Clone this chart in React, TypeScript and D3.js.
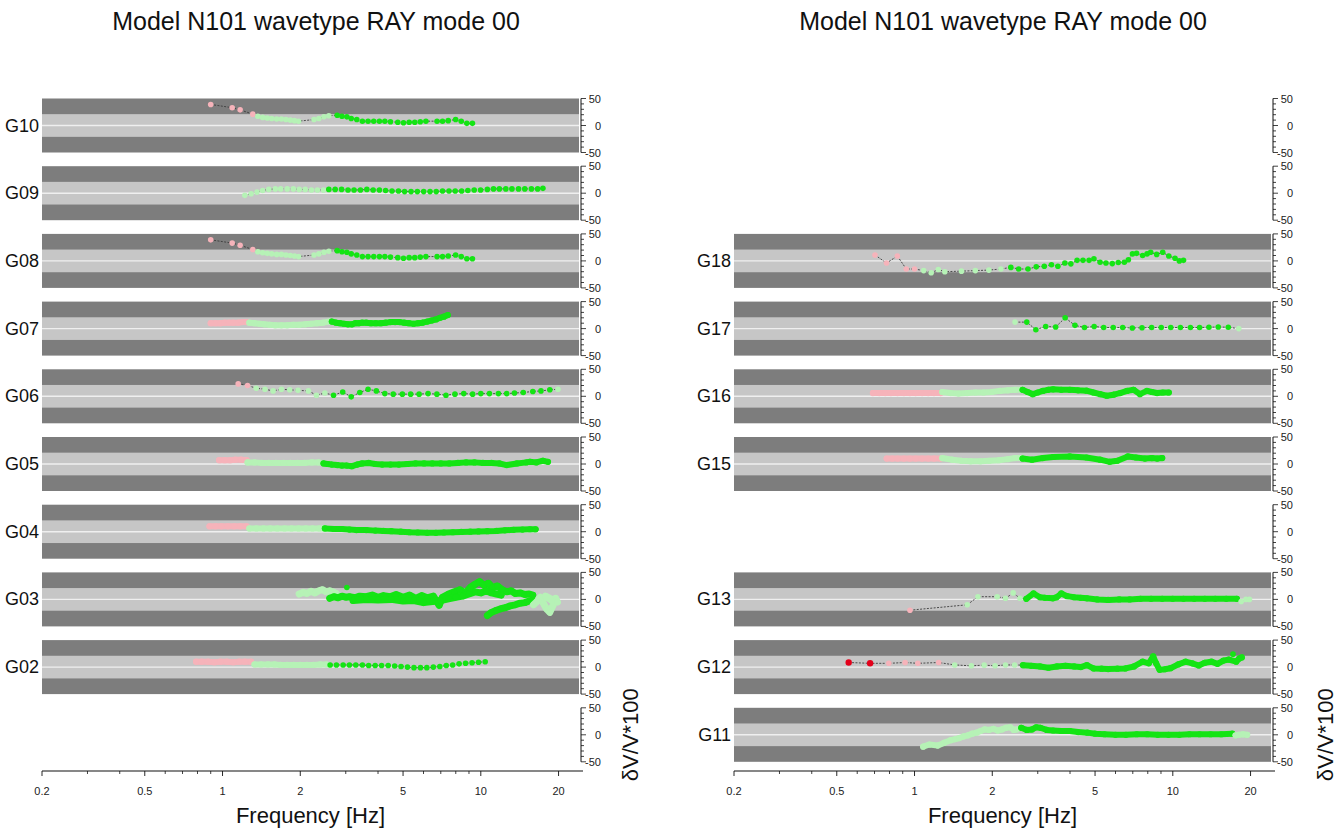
import React from 'react';
import * as d3 from 'd3';

// Dispersion-curve residuals per geophone: [frequency Hz, dV/V*100]
const G10_pink = [[0.90, 39], [1.09, 33], [1.17, 29], [1.31, 21]];
const G10_light = [[1.37, 17], [1.43, 15], [1.49, 14], [1.55, 13], [1.62, 12], [1.69, 12], [1.76, 11], [1.83, 10], [1.90, 9], [1.97, 8], [2.26, 11], [2.36, 13], [2.47, 16], [2.58, 18]];
const G10_green = [[2.78, 19], [2.90, 17], [3.03, 16], [3.15, 13], [3.31, 11], [3.48, 8], [3.66, 8], [3.85, 8], [4.05, 8], [4.25, 8], [4.47, 7], [4.77, 6], [5.02, 5], [5.28, 6], [5.55, 6], [5.83, 7], [6.13, 8], [6.77, 8], [7.11, 8], [7.48, 9], [7.99, 11], [8.40, 8], [8.83, 4], [9.28, 4]];

const G09_light = [[1.22, -4], [1.29, -1], [1.36, 2], [1.43, 5], [1.51, 7], [1.60, 8], [1.68, 8], [1.78, 8], [1.88, 8], [1.98, 7], [2.09, 7], [2.21, 6], [2.33, 6], [2.46, 6]];
const G09_green = [[2.58, 7], [2.73, 7], [2.89, 7], [3.06, 6], [3.23, 6], [3.42, 6], [3.62, 7], [3.83, 6], [4.05, 6], [4.28, 5], [4.53, 4], [4.80, 4], [5.07, 3], [5.37, 3], [5.68, 3], [6.01, 3], [6.36, 3], [6.72, 3], [7.11, 4], [7.53, 4], [7.96, 4], [8.43, 4], [8.91, 5], [9.43, 6], [9.98, 6], [10.6, 7], [11.2, 8], [11.8, 8], [12.5, 8], [13.2, 8], [14.0, 8], [14.8, 8], [15.7, 8], [16.6, 8], [17.4, 9]];

const G08_pink = [[0.90, 39], [1.09, 33], [1.17, 29], [1.31, 21]];
const G08_light = [[1.37, 17], [1.43, 15], [1.49, 14], [1.55, 13], [1.62, 12], [1.69, 12], [1.76, 11], [1.83, 10], [1.90, 9], [1.97, 8], [2.26, 11], [2.36, 13], [2.47, 16], [2.58, 18]];
const G08_green = [[2.78, 19], [2.90, 17], [3.03, 16], [3.15, 13], [3.31, 11], [3.48, 8], [3.66, 8], [3.85, 8], [4.05, 8], [4.25, 8], [4.47, 7], [4.77, 6], [5.02, 5], [5.28, 6], [5.55, 6], [5.83, 7], [6.13, 8], [6.77, 8], [7.11, 8], [7.48, 9], [7.99, 11], [8.40, 8], [8.83, 4], [9.28, 4]];

const G07_pink = [[0.90, 10], [0.94, 10], [0.98, 10], [1.02, 11], [1.06, 11], [1.10, 11], [1.15, 11], [1.19, 12], [1.24, 12]];
const G07_light = [[1.27, 11], [1.33, 10], [1.39, 9], [1.45, 8], [1.52, 7], [1.60, 6], [1.69, 6], [1.78, 6], [1.88, 7], [1.98, 7], [2.09, 8], [2.20, 9], [2.32, 10], [2.45, 11], [2.58, 13]];
const G07_green = [[2.65, 13], [2.75, 11], [2.85, 10], [2.95, 9], [3.06, 8], [3.17, 8], [3.27, 10], [3.37, 10], [3.47, 11], [3.60, 11], [3.75, 10], [3.92, 10], [4.10, 10], [4.28, 11], [4.47, 12], [4.66, 12], [4.85, 12], [5.05, 11], [5.27, 10], [5.49, 9], [5.72, 10], [5.95, 11], [6.20, 13], [6.45, 15], [6.71, 17], [6.95, 20], [7.20, 22], [7.45, 25]];

const G06_pink = [[1.15, 23], [1.25, 20]];
const G06_light = [[1.35, 15], [1.46, 13], [1.57, 10], [1.69, 13], [1.82, 12], [1.96, 11], [2.15, 10], [2.31, 2], [2.49, 6]];
const G06_green = [[2.69, 2], [2.92, 8], [3.15, -1], [3.40, 7], [3.66, 13], [3.94, 10], [4.25, 5], [4.58, 4], [4.97, 4], [5.35, 4], [5.77, 4], [6.25, 5], [6.76, 4], [7.33, 2], [7.94, 4], [8.59, 5], [9.30, 4], [10.0, 5], [10.8, 5], [11.7, 5], [12.6, 5], [13.5, 6], [14.6, 7], [15.9, 9], [17.1, 10], [18.5, 12]];
const G06_end = [[19.9, 13]];

const G05_pink = [[0.97, 7], [1.02, 7], [1.07, 7], [1.12, 8], [1.18, 8], [1.24, 7]];
const G05_light = [[1.25, 3], [1.33, 3], [1.42, 2], [1.51, 2], [1.61, 2], [1.72, 2], [1.83, 2], [1.95, 2], [2.08, 2], [2.22, 3], [2.36, 3]];
const G05_green = [[2.46, 1], [2.55, 0], [2.65, -1], [2.78, -2], [2.90, -3], [3.03, -3], [3.17, -4], [3.32, -1], [3.47, 1], [3.68, 2], [3.90, 0], [4.15, -1], [4.47, -1], [4.82, -1], [5.20, 0], [5.59, 1], [6.03, 1], [6.49, 1], [7.00, 1], [7.55, 1], [8.15, 2], [8.77, 3], [9.45, 3], [10.2, 2], [11.0, 2], [11.8, 1], [12.6, -2], [13.8, 1], [15.0, 3], [15.5, 4], [16.4, 3], [17.4, 6], [18.2, 4]];

const G04_pink = [[0.89, 10], [0.94, 10], [0.99, 10], [1.05, 10], [1.11, 10], [1.17, 10], [1.24, 10]];
const G04_light = [[1.27, 6], [1.35, 6], [1.44, 6], [1.53, 6], [1.63, 6], [1.74, 6], [1.85, 6], [1.97, 6], [2.10, 6], [2.23, 6], [2.37, 6], [2.46, 6]];
const G04_green = [[2.49, 6], [2.70, 5], [2.90, 5], [3.10, 4], [3.30, 3], [3.60, 3], [3.90, 2], [4.20, 1.5], [4.50, 1], [4.90, 0], [5.30, -1], [5.70, -1.5], [6.20, -2], [6.70, -2], [7.20, -1.5], [7.80, -1], [8.40, -0.5], [9.10, 0], [9.80, 0.5], [10.6, 1], [11.5, 1.5], [12.4, 2.5], [13.4, 3.5], [14.5, 4], [15.5, 4.5], [16.3, 4.5]];

const G03_light = [[1.98, 10], [2.05, 13], [2.12, 11], [2.20, 15], [2.28, 12], [2.36, 16], [2.44, 18], [2.52, 14], [2.60, 16], [2.70, 13], [2.75, 11]];
const G03_green = [[2.60, 2], [2.70, 5], [2.80, 3], [2.90, 6], [3.00, 4], [3.10, 5], [3.25, 3], [3.40, 6], [3.60, 5], [3.80, 8], [4.00, 4], [4.20, 7], [4.45, 5], [4.70, 9], [5.00, 4], [5.30, 8], [5.60, 2], [5.90, 7], [6.20, 3], [6.55, 6], [6.90, -11], [7.10, 4], [7.50, 10], [7.90, 14], [8.30, 18], [8.70, 12], [9.10, 22], [9.50, 28], [9.90, 33], [10.3, 26], [10.7, 30], [11.1, 22], [11.6, 25], [12.1, 18], [12.6, 14], [13.1, 16], [13.6, 11], [14.2, 12], [14.8, 9], [15.4, 10], [15.9, 8]];
const G03_spike = [[3.03, 22]];
const G03_green_low = [[3.20, -2], [3.60, 0], [4.00, -1], [4.50, 0], [5.00, -3], [5.50, -2], [6.00, -6], [6.50, -4], [7.00, -2], [7.50, 1], [8.00, 4], [8.50, 6], [9.00, 10], [9.50, 14], [10.0, 12], [10.5, 16], [11.0, 12], [11.5, 10], [12.0, 8]];
const G03_branch = [[10.6, -30], [11.0, -24], [11.5, -20], [12.0, -17], [12.5, -15], [13.0, -12], [13.6, -10], [14.2, -7], [14.8, -6], [15.4, -3], [15.9, -2]];
const G03_end = [[16.0, -10], [16.5, -4], [17.0, 4], [17.5, -8], [18.0, -18], [18.5, -24], [19.0, -12], [19.5, 2], [19.8, -5], [17.8, 6], [18.8, -2]];

const G02_pink = [[0.79, 10], [0.83, 10], [0.88, 10], [0.93, 9], [0.98, 10], [1.04, 10], [1.10, 9], [1.16, 10], [1.22, 10], [1.29, 10]];
const G02_light = [[1.33, 5], [1.41, 5], [1.50, 5], [1.59, 5], [1.68, 4], [1.78, 4], [1.89, 4], [2.00, 4], [2.12, 4], [2.25, 4], [2.39, 5], [2.53, 5]];
const G02_green = [[2.61, 4], [2.76, 4], [2.93, 4], [3.10, 4], [3.28, 4], [3.48, 4], [3.68, 3], [3.90, 3], [4.13, 3], [4.38, 3], [4.64, 2], [4.91, 1], [5.20, 0], [5.51, -1], [5.84, -1], [6.18, -1], [6.55, 0], [6.94, 1], [7.35, 3], [7.78, 4], [8.24, 6], [8.73, 7], [9.25, 8], [9.80, 9], [10.4, 10]];

const G18_pink = [[0.703, 11], [0.779, -4], [0.858, 9], [0.929, -15], [1.00, -15]];
const G18_light = [[1.085, -18], [1.16, -22], [1.236, -16], [1.31, -20], [1.52, -19], [1.72, -18], [1.94, -17], [2.16, -15]];
const G18_green = [[2.36, -12], [2.53, -15], [2.75, -15], [2.96, -11], [3.18, -10], [3.39, -7], [3.59, -10], [3.82, -4], [4.03, -5.5], [4.26, 1], [4.49, 1], [4.74, 1], [4.95, 4], [5.23, -2.5], [5.51, -4], [5.83, -5], [6.15, -3], [6.49, -2.5], [6.73, 2], [6.98, 13], [7.24, 14], [7.64, 10], [7.95, 13], [8.21, 16], [8.66, 12], [9.14, 16], [9.65, 9], [10.2, 5], [10.6, 0], [11.0, 1]];

const G17_light = [[2.45, 12]];
const G17_green = [[2.72, 12], [2.95, -2], [3.22, 4], [3.52, 3], [3.83, 20], [4.18, 6], [4.55, 2], [4.96, 4], [5.40, 2], [5.88, 2], [6.40, 2], [6.97, 1], [7.60, 1.5], [8.28, 2], [9.02, 2], [9.82, 2], [10.7, 2], [11.7, 2], [12.7, 2], [13.8, 2.5], [15.0, 3], [16.4, 2.5]];
const G17_end = [[18.0, 0]];

const G16_pink = [[0.69, 6], [0.73, 6], [0.77, 6], [0.81, 6], [0.86, 6], [0.91, 6], [0.96, 6], [1.01, 6], [1.07, 6], [1.13, 6], [1.19, 6], [1.26, 6]];
const G16_light = [[1.28, 8], [1.38, 6], [1.48, 5], [1.60, 6], [1.72, 7], [1.85, 7], [1.99, 8], [2.14, 10], [2.30, 11], [2.45, 12], [2.58, 12]];
const G16_green = [[2.62, 12], [2.74, 8], [2.87, 4], [3.00, 7], [3.14, 10], [3.29, 12], [3.44, 13], [3.70, 12], [3.99, 12], [4.30, 11], [4.63, 10.5], [4.93, 7], [5.23, 4], [5.55, 1], [5.90, 3], [6.25, 6], [6.65, 10], [7.05, 12], [7.46, 4], [7.94, 10], [8.30, 8], [8.69, 6], [9.15, 7], [9.65, 7]];

const G15_pink = [[0.78, 10], [0.82, 10], [0.86, 10], [0.91, 10], [0.96, 10], [1.01, 10], [1.07, 10], [1.13, 10], [1.19, 10], [1.26, 10]];
const G15_light = [[1.28, 11], [1.40, 8], [1.52, 6], [1.65, 5], [1.80, 5], [1.95, 6], [2.12, 7], [2.30, 9], [2.45, 11], [2.58, 11]];
const G15_green = [[2.62, 10], [2.85, 8], [3.14, 11], [3.44, 13], [3.99, 14], [4.63, 12], [5.23, 8], [5.70, 4], [6.10, 6], [6.70, 14], [7.20, 12], [7.80, 10], [8.30, 11], [8.70, 10], [9.10, 11]];

const G13_pink = [[0.96, -20]];
const G13_light = [[1.60, -10], [1.76, 5], [2.09, 5], [2.25, 2], [2.41, 12], [2.56, 2]];
const G13_green = [[2.71, 1], [2.89, 11], [3.06, 4], [3.20, 3], [3.43, 2], [3.55, 4], [3.70, 11], [3.90, 6], [4.15, 4], [4.40, 3], [4.65, 2], [5.10, 0], [5.62, -1], [6.20, 0], [6.81, 0], [7.50, 1], [8.24, 1], [9.10, 1], [9.99, 1], [11.0, 1], [12.1, 1], [13.3, 1], [14.6, 1], [16.1, 1], [17.7, 1]];
const G13_end = [[18.4, -4], [19.2, 0], [19.8, 0]];

const G12_red = [[0.556, 8.5], [0.673, 7]];
const G12_pink = [[0.795, 7], [0.92, 8.5], [1.03, 7], [1.24, 8.5]];
const G12_light = [[1.43, 4], [1.66, 2.4], [1.86, 3.6], [2.05, 2.4], [2.25, 4], [2.44, 4]];
const G12_green = [[2.63, 3.6], [2.83, 2.4], [3.06, 1.2], [3.30, -1.2], [3.56, 1.2], [3.84, 2.4], [4.15, 1.2], [4.40, 0], [4.65, 3.6], [4.93, -2.4], [5.30, -3], [5.62, -3.6], [6.10, -3], [6.56, -2.4], [7.08, 1.2], [7.64, 10], [8.08, 7], [8.39, 20], [8.62, 7], [8.89, -5], [9.30, -4], [9.80, -2], [10.5, 5], [11.2, 10], [11.9, 7], [12.6, 3], [13.3, 8], [14.1, 10], [14.9, 6], [15.7, 12], [16.5, 14], [17.6, 10], [18.1, 16], [18.5, 18]];
const G12_spike = [[17.1, 24]];

const G11_light = [[1.08, -22], [1.14, -18], [1.23, -20], [1.30, -15], [1.38, -10], [1.44, -8], [1.49, -6], [1.55, -3], [1.61, -1], [1.67, 2], [1.74, 4], [1.80, 7], [1.87, 10], [1.94, 9], [2.02, 11], [2.10, 8], [2.18, 10], [2.26, 13], [2.35, 14], [2.42, 9], [2.49, 10]];
const G11_green = [[2.59, 13], [2.72, 9], [2.85, 10], [2.96, 14], [3.07, 13], [3.25, 9], [3.44, 8], [3.70, 7], [3.99, 7], [4.30, 5], [4.67, 4], [5.00, 2], [5.44, 1], [6.00, 0], [6.58, 0], [7.25, 1], [7.96, 1], [8.75, 0], [9.62, 0], [10.6, 0], [11.6, 1], [12.7, 1], [14.0, 1], [15.4, 1], [17.0, 2]];
const G11_end = [[17.5, -1], [18.0, 0], [18.7, 1], [19.4, 0]];

const X_TICKS = [0.2, 0.5, 1, 2, 5, 10, 20];
const X_TICK_LABELS = ['0.2', '0.5', '1', '2', '5', '10', '20'];
const X_MINOR = [0.3, 0.4, 0.6, 0.7, 0.8, 0.9, 3, 4, 6, 7, 8, 9];
const Y_TICKS = [-50, -40, -30, -20, -10, 0, 10, 20, 30, 40, 50];
const Y_LABELS = [50, 0, -50];
const TITLE = 'Model N101 wavetype RAY mode 00';

type Seg = { kind: string; pts: number[][]; link: boolean; band: boolean };
// link: joined by the thin connector; band: drawn as a run of overlapping markers
const seg = (kind: string, pts: number[][], link = true, band = true): Seg => ({ kind, pts, link, band });

const STATIONS = [
  { name: 'G10', side: 0, row: 0, segs: [seg('pink', G10_pink), seg('light', G10_light), seg('green', G10_green)] },
  { name: 'G09', side: 0, row: 1, segs: [seg('light', G09_light), seg('green', G09_green)] },
  { name: 'G08', side: 0, row: 2, segs: [seg('pink', G08_pink), seg('light', G08_light), seg('green', G08_green)] },
  { name: 'G07', side: 0, row: 3, segs: [seg('pink', G07_pink), seg('light', G07_light), seg('green', G07_green)] },
  { name: 'G06', side: 0, row: 4, segs: [seg('pink', G06_pink), seg('light', G06_light), seg('green', G06_green), seg('light', G06_end)] },
  { name: 'G05', side: 0, row: 5, segs: [seg('pink', G05_pink), seg('light', G05_light), seg('green', G05_green)] },
  { name: 'G04', side: 0, row: 6, segs: [seg('pink', G04_pink), seg('light', G04_light), seg('green', G04_green)] },
  { name: 'G03', side: 0, row: 7, segs: [seg('light', G03_light), seg('green', G03_green), seg('green', G03_spike, false, false), seg('green', G03_green_low, false), seg('green', G03_branch, false), seg('light', G03_end, false)] },
  { name: 'G02', side: 0, row: 8, segs: [seg('pink', G02_pink), seg('light', G02_light), seg('green', G02_green)] },
  { name: 'G18', side: 1, row: 2, segs: [seg('pink', G18_pink), seg('light', G18_light), seg('green', G18_green)] },
  { name: 'G17', side: 1, row: 3, segs: [seg('light', G17_light), seg('green', G17_green), seg('light', G17_end)] },
  { name: 'G16', side: 1, row: 4, segs: [seg('pink', G16_pink), seg('light', G16_light), seg('green', G16_green)] },
  { name: 'G15', side: 1, row: 5, segs: [seg('pink', G15_pink), seg('light', G15_light), seg('green', G15_green)] },
  { name: 'G13', side: 1, row: 7, segs: [seg('pink', G13_pink), seg('light', G13_light), seg('green', G13_green), seg('light', G13_end)] },
  { name: 'G12', side: 1, row: 8, segs: [seg('red', G12_red), seg('pink', G12_pink), seg('light', G12_light), seg('green', G12_green), seg('green', G12_spike, false, false)] },
  { name: 'G11', side: 1, row: 9, segs: [seg('light', G11_light), seg('green', G11_green), seg('light', G11_end)] },
];

// Stations (or station:kind) whose samples are so close that they merge into a band
const DENSE = new Set(['G07', 'G05', 'G04', 'G03', 'G16', 'G15', 'G11', 'G13:green', 'G12:green', 'G02:pink', 'G02:light']);

const COLORS: Record<string, string> = {
  pink: '#f6b3ba',
  light: '#b6f2b6',
  green: '#14e414',
  red: '#e3001a',
};

const W = 1343;
const H = 828;
const FONT = "'Liberation Sans', Arial, Helvetica, sans-serif";
const ROW_TOP0 = 98.5;
const ROW_STEP = 67.7;
const PANEL_H = 54;
const N_ROWS = 10;
const X_AXIS_Y = 771;
const SIDES = [
  { x0: 42, x1: 579, titleX: 316, ylabX: 638 },
  { x0: 734, x1: 1271, titleX: 1003, ylabX: 1333 },
];

export default function App() {
  const rowScale = (row: number) => {
    const top = ROW_TOP0 + row * ROW_STEP;
    return d3.scaleLinear().domain([-50, 50]).range([top + PANEL_H, top]);
  };

  return (
    <svg
      width={W}
      height={H}
      style={{ position: 'absolute', left: 0, top: 0, background: '#fff' }}
      fontFamily={FONT}
    >
      {SIDES.map((side, si) => {
        const x = d3.scaleLog().domain([0.2, 24]).range([side.x0, side.x1]);
        const axisX = side.x1 + 2;
        const cx = (side.x0 + side.x1) / 2;
        const stations = STATIONS.filter((s) => s.side === si);
        return (
          <g key={si}>
            <text x={side.titleX} y={30} textAnchor="middle" fontSize={25} fill="#111">
              {TITLE}
            </text>

            {d3.range(N_ROWS).map((row) => {
              const y = rowScale(row);
              const st = stations.find((s) => s.row === row);
              return (
                <g key={row}>
                  {st && (
                    <g>
                      <rect x={side.x0} y={y(50)} width={side.x1 - side.x0} height={y(-50) - y(50)} fill="#7d7d7d" />
                      <rect x={side.x0} y={y(21)} width={side.x1 - side.x0} height={y(-21) - y(21)} fill="#c6c6c6" />
                      <line x1={side.x0} x2={side.x1} y1={y(0)} y2={y(0)} stroke="#efefef" strokeWidth={1.4} />
                      <text x={side.x0 - 3} y={y(0) + 6} textAnchor="end" fontSize={18} fill="#111">
                        {st.name}
                      </text>
                      {(() => {
                        const line = d3
                          .line<number[]>()
                          .x((d) => x(d[0]))
                          .y((d) => y(d[1]));
                        const chain = st.segs.filter((s) => s.link).flatMap((s) => s.pts);
                        return (
                          <g>
                            <path d={line(chain) || ''} fill="none" stroke="#3c3c3c" strokeWidth={0.9} strokeDasharray="2 1.4" />
                            {st.segs.map((s, k) => {
                              const dense = s.band && (DENSE.has(st.name) || DENSE.has(st.name + ':' + s.kind));
                              const c = COLORS[s.kind];
                              return (
                                <g key={k}>
                                  {dense && (
                                    <path
                                      d={line(s.pts) || ''}
                                      fill="none"
                                      stroke={c}
                                      strokeWidth={st.name === 'G03' ? 7 : 6}
                                      strokeLinecap="round"
                                      strokeLinejoin="round"
                                    />
                                  )}
                                  {s.pts.map((p, j) => (
                                    <circle
                                      key={j}
                                      cx={x(p[0])}
                                      cy={y(p[1])}
                                      r={s.kind === 'red' ? 3.2 : dense ? 3.1 : 2.8}
                                      fill={c}
                                    />
                                  ))}
                                </g>
                              );
                            })}
                          </g>
                        );
                      })()}
                    </g>
                  )}
                  {/* value axis */}
                  <line x1={axisX} x2={axisX} y1={y(50)} y2={y(-50)} stroke="#111" strokeWidth={1} />
                  {Y_TICKS.map((v) => (
                    <line
                      key={v}
                      x1={axisX}
                      x2={axisX + (v % 50 === 0 ? 5 : 3)}
                      y1={y(v)}
                      y2={y(v)}
                      stroke="#111"
                      strokeWidth={0.8}
                    />
                  ))}
                  {Y_LABELS.map((v) => (
                    <text
                      key={v}
                      x={axisX + 20}
                      y={y(v) + 4}
                      textAnchor="end"
                      fontSize={11}
                      fill="#222"
                    >
                      {v}
                    </text>
                  ))}
                </g>
              );
            })}

            {/* frequency axis */}
            <line x1={side.x0} x2={axisX + 2} y1={X_AXIS_Y} y2={X_AXIS_Y} stroke="#111" strokeWidth={1.2} />
            {X_TICKS.map((t, i) => (
              <g key={t}>
                <line x1={x(t)} x2={x(t)} y1={X_AXIS_Y} y2={X_AXIS_Y + 5} stroke="#111" strokeWidth={0.9} />
                <text x={x(t)} y={X_AXIS_Y + 24} textAnchor="middle" fontSize={11} fill="#222">
                  {X_TICK_LABELS[i]}
                </text>
              </g>
            ))}
            {X_MINOR.map((t) => (
              <line key={t} x1={x(t)} x2={x(t)} y1={X_AXIS_Y} y2={X_AXIS_Y + 3} stroke="#111" strokeWidth={0.8} />
            ))}
            <text x={cx} y={823} textAnchor="middle" fontSize={22} fill="#111">
              Frequency [Hz]
            </text>
            <text
              transform={`translate(${side.ylabX},${ROW_TOP0 + 9 * ROW_STEP + 27}) rotate(-90)`}
              textAnchor="middle"
              fontSize={22}
              fill="#111"
            >
              δV/V*100
            </text>
          </g>
        );
      })}
    </svg>
  );
}
